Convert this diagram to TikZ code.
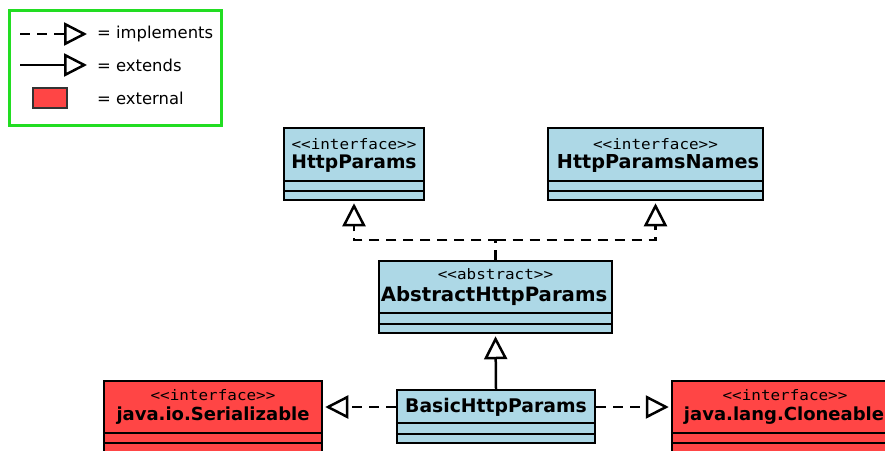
\documentclass[tikz,border=0pt]{standalone}
\usepackage{fontspec}
\setmainfont{DejaVu Sans}
\newfontfamily\monof[FakeStretch=1.1]{DejaVu Sans Mono}
\usetikzlibrary{arrows.meta}

\definecolor{clsblue}{HTML}{ADD8E6}
\definecolor{extred}{HTML}{FF4545}
\definecolor{legendgreen}{HTML}{22DD22}

\tikzset{
  classbox/.style={draw=black, line width=2.5pt, inner sep=0pt},
  stereo/.style={font=\monof\fontsize{14.5}{14.5}\selectfont, inner sep=0pt},
  ctitle/.style={font=\bfseries\fontsize{#1}{#1}\selectfont, inner sep=0pt},
  ctitle/.default=18,
  legtext/.style={font=\fontsize{16.4}{16.4}\selectfont, inner sep=0pt, anchor=west},
  compline/.style={draw=black, line width=2.5pt},
  hollowtip/.style={-{Triangle[open, length=23pt, width=23pt, fill=white]}},
  impl/.style={draw=black, line width=2.5pt, dash pattern=on 10pt off 7pt, hollowtip},
  extd/.style={draw=black, line width=2.5pt, hollowtip},
}

\begin{document}
\begin{tikzpicture}[x=1pt, y=-1pt]
\useasboundingbox (0,0) rectangle (885,450);
\clip (0,0) rectangle (885,450);
\fill[white] (0,0) rectangle (885,450);

% ---------- legend ----------
\node[draw=legendgreen, line width=3pt, minimum width=212pt, minimum height=115pt, inner sep=0pt] (legend) at (115.5,68) {};
\coordinate (l1a) at (20,34);
\coordinate (l1b) at (87,34);
\coordinate (l2a) at (20,65);
\coordinate (l2b) at (87,65);
\draw[impl] (l1a) -- (l1b);
\draw[extd] (l2a) -- (l2b);
\node[draw=black!80, fill=extred, line width=1.2pt, minimum width=34pt, minimum height=20pt, inner sep=0pt] (lred) at (50,98) {};
\node[legtext] (t1) at (97,34) {= implements};
\node[legtext] (t2) at (97,65) {= extends};
\node[legtext] (t3) at (97,98) {= external};

% ---------- HttpParams ----------
\node[classbox, fill=clsblue, minimum width=140pt, minimum height=72pt] (hp) at (354,164) {};
\node[stereo] (hps) at (354,144) {<<interface>>};
\node[ctitle=18.7] (hpt) at (354,163.5) {HttpParams};
\draw[compline] (hp.west |- 0,181) -- (hp.east |- 0,181);
\draw[compline] (hp.west |- 0,191) -- (hp.east |- 0,191);

% ---------- HttpParamsNames ----------
\node[classbox, fill=clsblue, minimum width=215pt, minimum height=72pt] (hpn) at (655.5,164) {};
\node[stereo] (hpns) at (655.5,144) {<<interface>>};
\node[ctitle=19.2] (hpnt) at (658,163.5) {HttpParamsNames};
\draw[compline] (hpn.west |- 0,181) -- (hpn.east |- 0,181);
\draw[compline] (hpn.west |- 0,191) -- (hpn.east |- 0,191);

% ---------- AbstractHttpParams ----------
\node[classbox, fill=clsblue, minimum width=233pt, minimum height=72pt] (abs) at (495.5,297) {};
\node[stereo] (abss) at (495.5,274) {<<abstract>>};
\node[ctitle=19.7] (abst) at (494,296.5) {AbstractHttpParams};
\draw[compline] (abs.west |- 0,313) -- (abs.east |- 0,313);
\draw[compline] (abs.west |- 0,324) -- (abs.east |- 0,324);

% ---------- BasicHttpParams ----------
\node[classbox, fill=clsblue, minimum width=198pt, minimum height=53pt] (basic) at (496,416.5) {};
\node[ctitle=18.8] (basict) at (496,407.5) {BasicHttpParams};
\draw[compline] (basic.west |- 0,423) -- (basic.east |- 0,423);
\draw[compline] (basic.west |- 0,434) -- (basic.east |- 0,434);

% ---------- java.io.Serializable ----------
\node[classbox, fill=extred, minimum width=218pt, minimum height=90pt] (ser) at (213,426) {};
\node[stereo] (sers) at (213,395.5) {<<interface>>};
\node[ctitle] (sert) at (213,415.5) {java.io.Serializable};
\draw[compline] (ser.west |- 0,433) -- (ser.east |- 0,433);
\draw[compline] (ser.west |- 0,443) -- (ser.east |- 0,443);

% ---------- java.lang.Cloneable ----------
\node[classbox, fill=extred, minimum width=224pt, minimum height=90pt] (clo) at (784,426) {};
\node[stereo] (clos) at (785,395.5) {<<interface>>};
\node[ctitle] (clot) at (784,415.5) {java.lang.Cloneable};
\draw[compline] (clo.west |- 0,433) -- (clo.east |- 0,433);
\draw[compline] (clo.west |- 0,443) -- (clo.east |- 0,443);

% ---------- connectors ----------
\coordinate (junc) at (abs.north |- 0,240);
\draw[impl] (abs.north) -- (junc) -| ([yshift=-2pt]hp.south);
\draw[impl] (junc) -| ([yshift=-2pt]hpn.south);
\draw[extd] (basic.north) -- ([yshift=-2pt]abs.south);
\draw[impl] (basic.west |- 0,407) -- ([xshift=2pt]ser.east |- 0,407);
\draw[impl] (basic.east |- 0,407) -- ([xshift=-2pt]clo.west |- 0,407);
\end{tikzpicture}
\end{document}
